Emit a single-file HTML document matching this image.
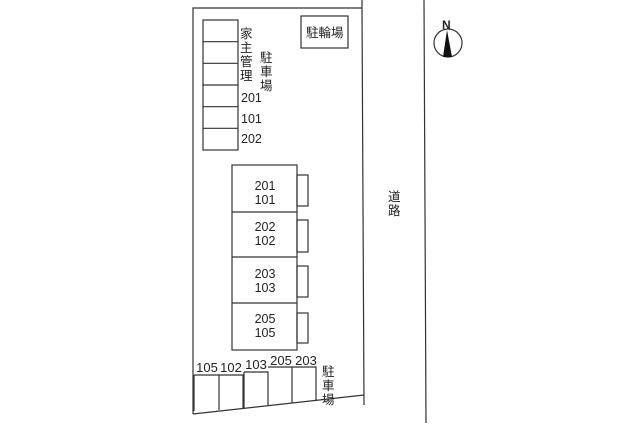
<!DOCTYPE html>
<html><head><meta charset="utf-8"><style>
html,body{margin:0;padding:0;background:#fff}
svg text{font-family:"Liberation Sans","Noto Sans CJK JP",sans-serif;fill:#222}
</style></head><body>
<svg width="640" height="423" viewBox="0 0 640 423" xmlns="http://www.w3.org/2000/svg">
<g fill="none" stroke="#333" stroke-width="1.2">
<polyline points="362,0 362,8 193,8 193,414"/>
<line x1="193" y1="414" x2="364" y2="395"/>
<line x1="362" y1="8" x2="364" y2="405"/>
<line x1="424" y1="0" x2="426" y2="423"/>
<rect x="203" y="20" width="35" height="130"/>
<line x1="203" y1="41.7" x2="238" y2="41.7"/>
<line x1="203" y1="63.3" x2="238" y2="63.3"/>
<line x1="203" y1="85" x2="238" y2="85"/>
<line x1="203" y1="106.7" x2="238" y2="106.7"/>
<line x1="203" y1="128.3" x2="238" y2="128.3"/>
<rect x="301" y="16" width="47" height="32"/>
<rect x="232" y="165" width="65" height="185"/>
<line x1="232" y1="212" x2="297" y2="212"/>
<line x1="232" y1="257" x2="297" y2="257"/>
<line x1="232" y1="303" x2="297" y2="303"/>
<rect x="297" y="175" width="11" height="31"/>
<rect x="297" y="220" width="11" height="32"/>
<rect x="297" y="266" width="11" height="31"/>
<rect x="297" y="313" width="11" height="30"/>
<polyline points="194,375 194,411"/>
<polyline points="194,375 219,375 219,410"/>
<polyline points="219,375 243,375 243,408"/>
<polyline points="244,372 268,372 268,406"/>
<polyline points="244,372 244,408"/>
<polyline points="268,367 292,367 292,403"/>
<polyline points="292,367 316,367 316,401"/>
<circle cx="448" cy="43" r="14"/>
</g>
<polygon points="447,30 443,57 452,57" fill="#111"/>
<text x="442" y="29" font-size="12" font-weight="bold">N</text>
<g font-size="12.5">
<text x="306" y="37">駐輪場</text>
<text x="240" y="38">家</text><text x="240" y="52">主</text><text x="240" y="66">管</text><text x="240" y="80">理</text>
<text x="260" y="62">駐</text><text x="260" y="76">車</text><text x="260" y="90">場</text>
<text x="241" y="102">201</text><text x="241" y="123">101</text><text x="241" y="143">202</text>
<text x="388" y="201">道</text><text x="388" y="215">路</text>
<text x="322" y="376">駐</text><text x="322" y="390">車</text><text x="322" y="404">場</text>
</g>
<g font-size="12.5" text-anchor="middle">
<text x="265" y="190">201</text><text x="265" y="204">101</text>
<text x="265" y="231">202</text><text x="265" y="245">102</text>
<text x="265" y="278">203</text><text x="265" y="292">103</text>
<text x="265" y="323">205</text><text x="265" y="337">105</text>
</g>
<g font-size="13" text-anchor="middle">
<text x="207" y="372">105</text><text x="231" y="372">102</text><text x="256" y="369">103</text>
<text x="281" y="365">205</text><text x="306" y="365">203</text>
</g>
</svg>
</body></html>
